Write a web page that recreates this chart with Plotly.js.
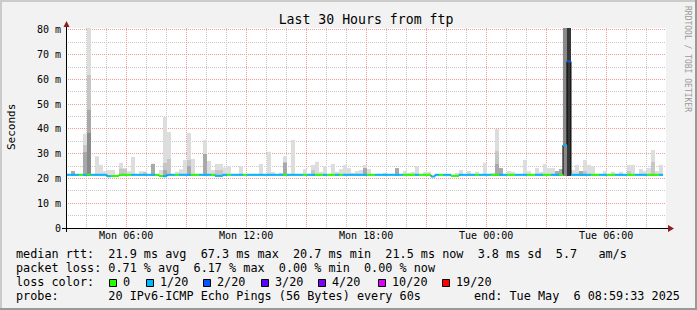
<!DOCTYPE html>
<html><head><meta charset="utf-8">
<script src="https://cdn.plot.ly/plotly-3.0.1.min.js"></script>
<style>html,body{margin:0;padding:0;background:#f2f2f2;overflow:hidden}#chart{width:697px;height:310px}</style>
</head><body><div id="chart"></div>
<script>
const N = null;
// time bins (12 minute steps), first bin left edge
const binStartUTC = Date.UTC(2025, 4, 5, 3, 2, 30);
const binMinutes = 12;
const rangeStart = '2025-05-05 02:59:33';
const rangeEnd = '2025-05-06 08:59:33';

// median rtt per bin (ms)
const medianRtt = [
 21.5,21.5,21.5,21.5,21.5,21.5,21.5,21.5,21.5,21.5,
 20.9,21.0,21.0,21.5,21.5,21.5,21.5,21.5,21.5,21.5,
 21.5,21.5,21.5,21.0,20.9,21.5,21.5,21.5,21.5,21.5,
 21.5,21.5,21.5,21.5,21.5,21.5,21.5,21.1,21.1,21.5,
 21.5,21.5,21.5,21.5,21.5,21.5,21.5,21.5,21.5,21.5,
 21.5,21.5,21.5,21.5,21.5,21.5,21.5,21.5,21.5,21.5,
 21.5,21.5,21.5,21.5,21.5,21.5,21.5,21.5,21.5,21.5,
 21.5,21.5,21.5,21.5,21.5,21.5,21.5,21.5,21.5,21.5,
 21.5,21.5,21.5,21.5,21.5,21.5,21.5,21.5,21.5,21.5,
 21.5,20.8,21.5,21.5,21.5,21.5,21.1,21.1,21.5,21.5,
 21.5,21.5,21.5,21.5,21.5,21.5,21.5,21.5,21.5,21.5,
 21.5,21.5,21.5,21.5,21.5,21.5,21.5,21.5,21.5,21.5,
 21.5,21.5,21.5,21.5,33.5,67.3,21.5,21.5,21.5,21.5,
 21.5,21.5,21.5,21.5,21.5,21.5,21.5,21.5,21.5,21.5,
 21.5,21.5,21.5,21.5,21.5,21.5,21.5,21.5,21.5];

// loss class per bin (index into lossColors)
const lossClass = [
 1,1,1,0,1,0,1,1,1,1,
 1,0,0,0,0,0,1,1,1,1,
 1,1,0,0,1,1,1,0,1,1,
 1,0,0,1,1,1,0,1,1,1,
 0,1,1,1,0,1,1,1,1,1,
 1,1,1,1,0,1,1,1,1,0,
 1,1,0,0,1,0,0,1,0,1,
 1,1,1,1,1,0,0,1,1,1,
 1,1,1,1,0,0,0,1,0,0,
 0,1,1,0,1,1,0,0,1,1,
 1,1,0,1,1,1,0,0,1,1,
 0,0,1,1,1,0,0,1,1,0,
 0,1,1,0,1,2,1,1,1,1,
 1,0,0,1,1,0,0,1,1,1,
 0,0,1,1,1,0,0,0,1];

// lowest ping per bin (ms)
const minPing = [
 21.2,21.2,21.2,21.2,21.2,21.0,21.2,21.2,21.2,21.2,
 21.2,21.2,21.2,21.2,21.2,21.2,21.2,21.2,21.2,21.2,
 21.2,21.2,21.2,21.2,21.2,21.2,21.2,21.2,21.2,21.2,
 21.2,21.2,21.2,21.2,21.2,21.2,21.2,21.2,21.2,21.2,
 21.2,21.2,21.2,21.2,21.2,21.2,21.2,21.2,21.2,21.2,
 21.2,21.2,21.2,21.2,21.2,21.2,21.2,21.2,21.2,21.2,
 21.2,21.2,21.2,21.2,21.2,21.2,21.2,21.2,21.2,21.2,
 21.2,21.2,21.2,21.2,21.2,21.2,21.2,21.2,21.2,21.2,
 21.2,21.2,21.2,21.2,21.2,21.2,21.2,21.2,21.2,21.2,
 21.2,21.2,21.2,21.2,21.2,21.2,21.2,21.2,21.2,21.2,
 21.2,21.2,21.2,21.2,21.2,21.2,21.2,21.2,21.2,21.2,
 21.2,21.2,21.2,21.2,21.2,21.2,21.2,21.2,21.2,21.2,
 21.2,21.2,21.2,21.2,21.0,21.0,21.2,21.2,21.2,21.2,
 21.2,21.2,21.2,21.2,21.2,21.2,21.2,21.2,21.2,21.2,
 21.2,21.2,21.2,21.2,21.2,21.2,21.2,21.2,21.2];

// smoke: highest ping per bin (outer, lightest band)
const smokeMax = [
 N,23,N,N,38.1,95,N,29,25.5,23,
 23.4,23.4,N,26.3,24,23,28.7,N,23,22.7,
 N,25.9,N,23.4,44.8,38.8,N,22.7,23.7,27.5,
 38.4,27.9,N,N,35.6,27.1,23.4,25.9,25.9,24.5,
 25,N,N,25,N,N,N,N,25.9,N,
 30.8,22.6,N,22.3,29,N,35.6,N,N,23.8,
 N,25.5,26.7,22.7,25,N,25.9,22.7,23.8,25.5,
 24.2,22.3,23,23.4,25.5,23.8,N,N,N,22.3,
 N,N,24.2,N,23,22.3,22.7,25,N,22.7,
 22.7,N,N,N,N,N,N,22.3,23.4,N,
 23,N,22.7,N,26.3,N,22.3,40,24.2,N,
 23,22.7,N,N,27.5,23,N,24.2,22.7,25.9,
 24.2,24.2,23,23.8,95,95,23.4,25.5,23,27.5,
 25.5,25,N,N,23,N,22.7,N,22.7,N,
 25.5,25.5,N,23.8,23,24.2,31.5,23,25.5];

// smoke: second band
const smokeBand2 = [
 N,N,N,N,33.5,61.8,N,N,N,N,
 N,N,N,24,24,N,N,N,N,22.7,
 N,N,N,N,26.3,27.9,N,N,N,N,
 27.5,N,N,N,N,N,N,23.4,23.4,N,
 N,N,N,N,N,N,N,N,N,N,
 N,N,N,N,N,N,N,N,N,N,
 N,23.4,N,N,N,N,N,N,N,N,
 N,N,N,N,N,N,N,N,N,N,
 N,N,N,N,N,N,N,N,N,N,
 N,N,N,N,N,N,N,N,N,N,
 N,N,N,N,N,N,N,31,N,N,
 N,N,N,N,N,N,N,N,N,N,
 N,N,N,N,95,95,N,N,N,23,
 N,N,N,N,N,N,N,N,N,N,
 23,N,N,N,N,N,26.7,N,N];

// smoke: third band
const smokeBand3 = [
 N,23,N,N,30.7,47.7,N,N,N,N,
 N,N,N,N,N,N,N,N,N,N,
 N,25.9,N,N,23.4,N,N,N,N,N,
 25,N,N,N,29.9,N,N,N,N,N,
 N,N,N,N,N,N,N,N,N,N,
 N,N,N,N,26.5,N,N,N,N,N,
 N,N,N,N,N,N,N,N,N,N,
 N,N,N,N,24.2,N,N,N,N,N,
 N,N,24.2,N,N,N,N,N,N,N,
 N,N,N,N,N,N,N,N,N,N,
 N,N,N,N,N,N,N,25.9,24.2,N,
 N,N,N,N,N,N,N,N,N,N,
 N,N,23,23.8,95,95,N,N,23,N,
 N,N,N,N,N,N,N,N,N,N,
 N,N,N,N,N,N,N,N,N];

// smoke: fourth band
const smokeBand4 = [
 N,N,N,N,N,38.4,N,N,N,N,
 N,N,N,N,N,N,N,N,N,N,
 N,N,N,N,N,N,N,N,N,N,
 N,N,N,N,N,N,N,N,N,N,
 N,N,N,N,N,N,N,N,N,N,
 N,N,N,N,N,N,N,N,N,N,
 N,N,N,N,N,N,N,N,N,N,
 N,N,N,N,N,N,N,N,N,N,
 N,N,N,N,N,N,N,N,N,N,
 N,N,N,N,N,N,N,N,N,N,
 N,N,N,N,N,N,N,N,N,N,
 N,N,N,N,N,N,N,N,N,N,
 N,N,N,N,95,95,N,N,N,N,
 N,N,N,N,N,N,N,N,N,N,
 N,N,N,N,N,N,N,N,N];

// smoke: core band
const smokeBand5 = [
 N,N,N,N,N,N,N,N,N,N,
 N,N,N,N,N,N,N,N,N,N,
 N,N,N,N,N,N,N,N,N,N,
 N,N,N,N,N,N,N,N,N,N,
 N,N,N,N,N,N,N,N,N,N,
 N,N,N,N,N,N,N,N,N,N,
 N,N,N,N,N,N,N,N,N,N,
 N,N,N,N,N,N,N,N,N,N,
 N,N,N,N,N,N,N,N,N,N,
 N,N,N,N,N,N,N,N,N,N,
 N,N,N,N,N,N,N,N,N,N,
 N,N,N,N,N,N,N,N,N,N,
 N,N,N,N,N,95,N,N,N,N,
 N,N,N,N,N,N,N,N,N,N,
 N,N,N,N,N,N,N,N,N];

const lossColors = ['#26ff00','#00b8ff','#0059ff','#5e00ff','#7e00ff','#dd00ff','#ff0000'];
const lossLabels = ['0','1/20','2/20','3/20','4/20','10/20','19/20'];

const xTickVals = ['2025-05-05 03:00','2025-05-05 06:00','2025-05-05 09:00','2025-05-05 12:00','2025-05-05 15:00',
  '2025-05-05 18:00','2025-05-05 21:00','2025-05-06 00:00','2025-05-06 03:00','2025-05-06 06:00'];
const xTickText = ['','Mon 06:00','','Mon 12:00','','Mon 18:00','','Tue 00:00','','Tue 06:00'];
const yTickVals = [0,10,20,30,40,50,60,70,80];
const yTickText = ['0','10 m','20 m','30 m','40 m','50 m','60 m','70 m','80 m'];

const legendLines = [
 'median rtt:  21.9 ms avg  67.3 ms max  20.7 ms min  21.5 ms now  3.8 ms sd  5.7   am/s',
 'packet loss: 0.71 % avg  6.17 % max  0.00 % min  0.00 % now',
 'loss color:',
 'probe:       20 IPv6-ICMP Echo Pings (56 Bytes) every 60s'];
const endText = 'end: Tue May  6 08:59:33 2025';

// ---------- build ----------
const binMs = binMinutes * 60000;
const nb = medianRtt.length;
const lefts = [], centers = [];
for (let k = 0; k < nb; k++) { lefts.push(binStartUTC + k * binMs); centers.push(binStartUTC + (k + 0.5) * binMs); }

const traces = [];
const bands = [[smokeMax,'#dddddd'],[smokeBand2,'#c6c6c6'],[smokeBand3,'#a9a9a9'],[smokeBand4,'#8a8a8a'],[smokeBand5,'#373737']];
bands.forEach(([arr, col]) => {
  traces.push({type:'bar', x:centers, base:minPing,
    y: arr.map((v,i) => v == null ? null : v - minPing[i]),
    width: binMs, marker:{color:col, line:{width:0}, opacity:1}, hoverinfo:'skip'});
});
// black step line (vertical transitions)
traces.push({type:'scatter', mode:'lines', x: lefts.concat([binStartUTC + nb*binMs]), y: medianRtt.concat([medianRtt[nb-1]]),
  line:{color:'#000', width:1, shape:'hv'}, hoverinfo:'skip'});
// coloured median segments by loss
lossColors.forEach((col, c) => {
  const xs = [], ys = [];
  for (let k = 0; k < nb; k++) if (lossClass[k] === c) {
    xs.push(lefts[k], lefts[k] + binMs, null); ys.push(medianRtt[k], medianRtt[k], null);
  }
  if (xs.length) traces.push({type:'scatter', mode:'lines', x:xs, y:ys, line:{color:col, width:2}, hoverinfo:'skip', connectgaps:false});
});

const PX = x => (x - 66) / 600;
const PY = y => (228 - y) / 200;
const nb_ = s => s.replace(/ /g, '\u00a0');
const mono = 'DejaVu Sans Mono, monospace';

const shapes = [
  {type:'rect', xref:'paper', yref:'paper', x0:PX(0), x1:PX(697), y0:PY(0), y1:PY(2), fillcolor:'#cbcbcb', line:{width:0}, layer:'below'},
  {type:'rect', xref:'paper', yref:'paper', x0:PX(0), x1:PX(2), y0:PY(0), y1:PY(310), fillcolor:'#cbcbcb', line:{width:0}, layer:'below'},
  {type:'rect', xref:'paper', yref:'paper', x0:PX(0), x1:PX(697), y0:PY(308), y1:PY(310), fillcolor:'#999999', line:{width:0}, layer:'below'},
  {type:'rect', xref:'paper', yref:'paper', x0:PX(695), x1:PX(697), y0:PY(0), y1:PY(310), fillcolor:'#999999', line:{width:0}, layer:'below'},
  {type:'line', xref:'paper', yref:'paper', x0:PX(62), x1:PX(668), y0:PY(228.5), y1:PY(228.5), line:{color:'#000', width:1}},
  {type:'line', xref:'paper', yref:'paper', x0:PX(66.5), x1:PX(66.5), y0:PY(232), y1:PY(24), line:{color:'#000', width:1}},
  {type:'path', xref:'paper', yref:'paper', path:`M${PX(668)},${PY(225)} L${PX(674)},${PY(228.5)} L${PX(668)},${PY(232)} Z`, fillcolor:'#8b1e1e', line:{width:0}},
  {type:'path', xref:'paper', yref:'paper', path:`M${PX(63.5)},${PY(27)} L${PX(66.5)},${PY(21)} L${PX(69.5)},${PY(27)} Z`, fillcolor:'#8b1e1e', line:{width:0}}
];
const sqX = [109,146,203,261,318,378,442];
lossColors.forEach((col,i) => shapes.push({type:'rect', xref:'paper', yref:'paper',
  x0:PX(sqX[i]+0.5), x1:PX(sqX[i]+7.5), y0:PY(279.5), y1:PY(286.5), fillcolor:col, line:{color:'#000', width:1}}));

const lineY = [254, 268, 282, 296];
const annotations = [];
legendLines.forEach((t,i) => annotations.push({xref:'paper', yref:'paper', x:PX(14), y:PY(lineY[i]), xanchor:'left', yanchor:'middle',
  text:nb_(t), showarrow:false, font:{family:mono, size:11.8, color:'#000'}}));
lossLabels.forEach((t,i) => annotations.push({xref:'paper', yref:'paper', x:PX(sqX[i]+12), y:PY(282), xanchor:'left', yanchor:'middle',
  text:t, showarrow:false, font:{family:mono, size:11.8, color:'#000'}}));
annotations.push({xref:'paper', yref:'paper', x:PX(682), y:PY(296), xanchor:'right', yanchor:'middle', text:nb_(endText), showarrow:false, font:{family:mono, size:11.8, color:'#000'}});
annotations.push({xref:'paper', yref:'paper', x:PX(11), y:PY(127), xanchor:'center', yanchor:'middle', text:'Seconds', textangle:-90, showarrow:false, font:{family:mono, size:11, color:'#000'}});
annotations.push({xref:'paper', yref:'paper', x:PX(688), y:PY(59), xanchor:'center', yanchor:'middle', text:nb_('RRDTOOL / TOBI OETIKER'), textangle:90, showarrow:false, font:{family:mono, size:8, color:'#9a9a9a'}});

const layout = {
  width:697, height:310, margin:{l:66, r:31, t:28, b:82, pad:0},
  paper_bgcolor:'#f2f2f2', plot_bgcolor:'#ffffff',
  font:{family:mono, size:10, color:'#000'},
  showlegend:false, barmode:'overlay', hovermode:false,
  title:{text:'Last 30 Hours from ftp', x:0.5, xanchor:'center', xref:'paper', y:1-19/310, yanchor:'middle', yref:'container', font:{family:mono, size:13.2, color:'#000'}},
  xaxis:{type:'date', range:[rangeStart, rangeEnd], tickmode:'array', tickvals:xTickVals, ticktext:xTickText,
    showgrid:true, gridcolor:'#f59a9a', gridwidth:1, griddash:'1px,1px', zeroline:false, showline:false, ticks:'',
    tickfont:{family:mono, size:10}, fixedrange:true,
    minor:{tickmode:'linear', tick0:'2025-05-05 00:00', dtick:3600000, showgrid:true, gridcolor:'#c8c8c8', gridwidth:1, griddash:'1px,1px', ticks:''}},
  yaxis:{range:[0, 80.8], tickmode:'array', tickvals:yTickVals, ticktext:yTickText,
    showgrid:true, gridcolor:'#f59a9a', gridwidth:1, griddash:'1px,1px', zeroline:false, showline:false, ticks:'',
    tickfont:{family:mono, size:10}, ticklabelstandoff:4, fixedrange:true,
    minor:{tickmode:'linear', tick0:0, dtick:5, showgrid:true, gridcolor:'#c8c8c8', gridwidth:1, griddash:'1px,1px', ticks:''}},
  shapes: shapes, annotations: annotations
};
Plotly.newPlot('chart', traces, layout, {staticPlot:true, displayModeBar:false});
</script>
</body></html>
